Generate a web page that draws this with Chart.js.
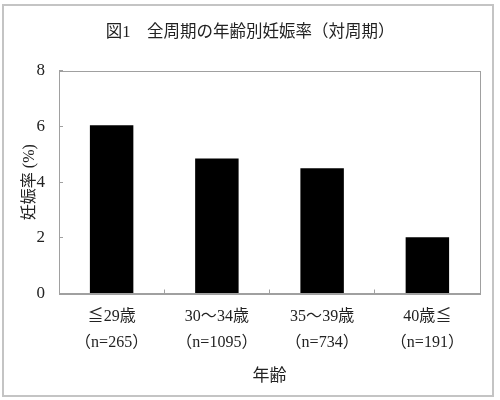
<!DOCTYPE html>
<html>
<head>
<meta charset="utf-8">
<script src="https://cdn.jsdelivr.net/npm/chart.js@4/dist/chart.umd.min.js"></script>
<style>
html,body{margin:0;padding:0;background:#fff;}
#wrap{width:500px;height:400px;}
</style>
</head>
<body>
<div id="wrap"><canvas id="c" width="500" height="400"></canvas></div>
<script>
const categories = [
  ['≦29歳', '（n=265）'],
  ['30～34歳', '（n=1095）'],
  ['35～39歳', '（n=734）'],
  ['40歳≦', '（n=191）']
];
const pregnancyRate = [6.05, 4.85, 4.50, 2.02];
const yTicks = [0, 2, 4, 6, 8];
const chartTitle = '図1　全周期の年齢別妊娠率（対周期）';
const yTitle = '妊娠率 (%)';
const xTitle = '年齢';

const FONT = "'Liberation Serif', 'Noto Sans CJK JP', serif";
const TEXT = '#222';
const GRID = '#a0a0a0';

const framePlugin = {
  id: 'frames',
  beforeDraw(chart) {
    const ctx = chart.ctx;
    ctx.save();
    ctx.fillStyle = '#fff';
    ctx.fillRect(0, 0, chart.width, chart.height);
    ctx.strokeStyle = '#c4c4c4';
    ctx.lineWidth = 2;
    ctx.strokeRect(3, 5, 490, 391);
    ctx.restore();
  },
  beforeDatasetsDraw(chart) {
    const a = chart.chartArea;
    const ctx = chart.ctx;
    ctx.save();
    ctx.strokeStyle = GRID;
    ctx.lineWidth = 1;
    ctx.strokeRect(Math.round(a.left) + 0.5, Math.round(a.top) + 0.5,
                   Math.round(a.right - a.left), Math.round(a.bottom - a.top));
    ctx.restore();
  }
};

new Chart(document.getElementById('c'), {
  type: 'bar',
  data: {
    labels: categories,
    datasets: [{
      data: pregnancyRate,
      backgroundColor: '#000',
      borderWidth: 0,
      barPercentage: 0.413,
      categoryPercentage: 1.0
    }]
  },
  options: {
    responsive: false,
    animation: false,
    devicePixelRatio: 1,
    layout: { padding: { left: 0, right: 0, top: 0, bottom: 0 } },
    plugins: {
      legend: { display: false },
      tooltip: { enabled: false },
      title: {
        display: true,
        text: chartTitle,
        color: TEXT,
        font: { family: FONT, size: 16.5, weight: 'normal', lineHeight: 1.2 },
        padding: { top: 23.1, bottom: 28 }
      }
    },
    scales: {
      x: {
        grid: {
          display: true,
          offset: true,
          drawOnChartArea: false,
          drawTicks: true,
          tickLength: -4,
          color: GRID
        },
        border: { display: true, color: GRID, width: 1 },
        ticks: {
          color: TEXT,
          padding: 14,
          font: { family: FONT, size: 16, lineHeight: 26 / 16 },
          maxRotation: 0,
          autoSkip: false
        },
        title: {
          display: true,
          text: xTitle,
          color: TEXT,
          font: { family: FONT, size: 17, lineHeight: 1.2 },
          padding: { top: 0, bottom: 12.8 }
        },
        afterFit(s) { s.height = 106.5; }
      },
      y: {
        min: 0,
        max: 8,
        afterBuildTicks(s) { s.ticks = yTicks.map(v => ({ value: v })); },
        grid: {
          display: true,
          drawOnChartArea: false,
          drawTicks: true,
          tickLength: -4,
          color: GRID
        },
        border: { display: true, color: GRID, width: 1 },
        ticks: {
          color: TEXT,
          padding: 18,
          font: { family: FONT, size: 17 }
        },
        title: {
          display: true,
          text: yTitle,
          color: TEXT,
          font: { family: FONT, size: 16, lineHeight: 1.2 },
          padding: { top: 20.4, bottom: 0 }
        },
        afterFit(s) { s.width = 59; }
      },
      rightSpace: {
        position: 'right',
        display: true,
        ticks: { display: false },
        grid: { display: false },
        border: { display: false },
        afterFit(s) { s.width = 20; }
      }
    }
  },
  plugins: [framePlugin]
});
</script>
</body>
</html>
